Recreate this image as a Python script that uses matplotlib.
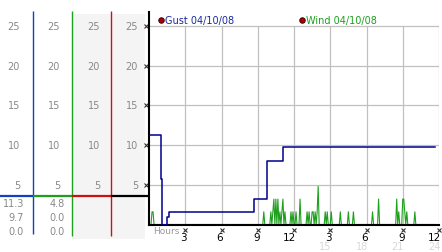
import numpy as np
import matplotlib
matplotlib.use("Agg")
import matplotlib.pyplot as plt
import matplotlib.transforms as mtransforms

# ---- data ----
gust_t = [0, 1.02, 1.1, 1.5, 1.65, 8.7, 9.8, 11.1, 23.7]
gust_v = [11.3, 5.7, 0.0, 1.0, 1.6, 3.2, 8.0, 9.7, 9.7]

wind_t = [0.25, 0.37, 9.52, 10.1, 10.26, 10.35, 10.51, 10.68, 10.84, 10.97,
          11.09, 11.26, 11.75, 11.92, 12.17, 12.5, 13.08, 13.25, 13.5, 13.62,
          13.74, 13.88, 13.97, 14.03, 14.57, 14.71, 15.1, 15.81, 16.47, 16.89,
          18.54, 18.96, 20.53, 20.65, 20.99, 21.07, 21.19, 21.36, 22.02]
wind_v = [1.6, 1.6, 1.6, 1.6, 1.6, 3.2, 3.2, 3.2, 1.6, 1.6,
          3.2, 1.6, 1.6, 1.6, 1.6, 3.2, 1.6, 1.6, 1.6, 1.6,
          1.6, 1.6, 3.2, 4.8, 1.6, 1.6, 1.6, 1.6, 1.6, 1.6,
          1.6, 3.2, 3.2, 1.6, 3.2, 3.2, 1.6, 1.6, 1.6]

y_ticks = [5, 10, 15, 20, 25]
x_ticks = [3, 6, 9, 12, 15, 18, 21, 24]
x_labels = ["3", "6", "9", "12", "3", "6", "9", "12"]
x_labels2 = {15: "15", 18: "18", 21: "21", 24: "24"}

stats_gust = ["11.3", "9.7", "0.0"]
stats_wind = ["4.8", "0.0", "0.0"]

GUST = "#00008b"
BLUE = "#1040c0"
GREEN = "#1ea01e"
RED = "#cc1111"
GREY = "#888888"

W, H = 442, 253
fig = plt.figure(figsize=(W / 100, H / 100), dpi=100)

# overlay in pixel coordinates for the left panel
ov = fig.add_axes([0, 0, 1, 1])
ov.set_xlim(0, W)
ov.set_ylim(H, 0)
ov.axis("off")
ov.set_zorder(0)

# main plot: x 149..439 px, zero at y=225.5, 7.94 px per unit
px_unit = 7.94
y0 = 225.5
ytop = 13
ax = fig.add_axes([149 / W, (H - y0) / H, 290 / W, (y0 - ytop) / H])
ax.set_zorder(1)
ax.set_xlim(0, 24)
ax.set_ylim(0, (y0 - ytop) / px_unit)
ax.patch.set_alpha(0)
for s in ["top", "right"]:
    ax.spines[s].set_visible(False)
ax.spines["left"].set_linewidth(1.5)
ax.spines["bottom"].set_linewidth(1.5)
ax.set_xticks([])
ax.set_yticks([])

# grid
for v in y_ticks:
    ax.axhline(v, color="#c0c0c0", lw=0.9, zorder=0)
ax.vlines(x_ticks, 0, 25, color="#c0c0c0", lw=0.9, zorder=0)

# wind: 5-minute samples, mostly calm
grid = np.round(np.arange(0, 23.7 + 1e-9, 1 / 12), 4)
wind = np.zeros(len(grid))
for t, v in zip(wind_t, wind_v):
    wind[int(round(t * 12))] = max(wind[int(round(t * 12))], v)
ax.plot(grid, wind, color=GREEN, lw=0.8, zorder=2, clip_on=False)

# gust
ax.plot(gust_t, gust_v, drawstyle="steps-post", color=GUST, lw=1.1, zorder=3)

# tick glyphs
ax.plot([-0.25] * len(y_ticks), y_ticks, "x", color="#333333", ms=2.5, mew=0.8,
        clip_on=False)
ax.plot(x_ticks, [-0.75] * len(x_ticks), "x", color="#333333", ms=2.5, mew=0.8,
        clip_on=False)
for t, lab in zip(x_ticks, x_labels):
    ax.text(t + 0.15, -1.6, lab, ha="right", va="center", fontsize=7.5,
            color="black", clip_on=False)
for t, lab in x_labels2.items():
    ax.text(t + 0.1, -2.75, lab, ha="right", va="center", fontsize=7,
            color="#d8d8d8", clip_on=False)
ax.text(0.3, -0.8, "Hours", ha="left", va="center", fontsize=6.5, color="#999999")

# legend
ov.plot([160.7, 302], [20.7, 20.7], "o", ms=4, mfc="#aa0000", mec="#330000", mew=0.6)
ov.text(165, 20.7, "Gust 04/10/08", color="#1a2aa0", fontsize=7, va="center")
ov.text(306.5, 20.7, "Wind 04/10/08", color=GREEN, fontsize=7, va="center")

# left panel
ov.add_patch(plt.Rectangle((72, 15), 73, 225, color="#f4f4f4", lw=0, zorder=0))
ov.vlines(33.3, 12, 235, color=BLUE, lw=1.0)
ov.vlines(72.3, 12, 237, color=GREEN, lw=1.0)
ov.vlines(111.3, 12, 237, color=RED, lw=1.0)
ov.hlines(196.7, 0, 33.3, color=BLUE, lw=1.6)
ov.hlines(196.7, 33.3, 72.3, color=GREEN, lw=1.6)
ov.hlines(196.7, 72.3, 111.3, color=RED, lw=1.6)
ov.hlines(196.7, 111.3, 149, color="black", lw=1.6)

blend = mtransforms.blended_transform_factory(ov.transData, ax.transData)
for xr in [20, 60, 100, 138]:
    for v in y_ticks:
        ov.text(xr, v, str(v), transform=blend, ha="right", va="center",
                fontsize=7, color=GREY)

for i, (a, b) in enumerate(zip(stats_gust, stats_wind)):
    yy = 204 + i * 14
    ov.text(24, yy, a, ha="right", va="center", fontsize=7, color=GREY)
    ov.text(65, yy, b, ha="right", va="center", fontsize=7, color=GREY)

fig.savefig("out.png", dpi=100)
